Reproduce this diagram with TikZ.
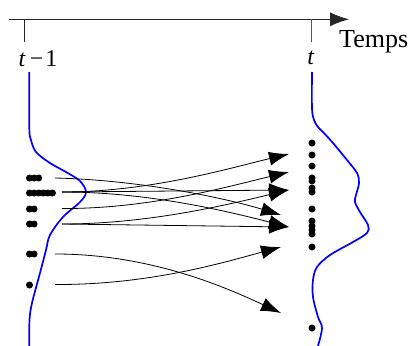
\documentclass[tikz,border=0pt]{standalone}
\usepackage{fontspec}
\setmainfont{Liberation Serif}
\usetikzlibrary{arrows.meta}
\begin{document}
\begin{tikzpicture}[x=1pt,y=-1pt,
  lbl/.style={inner sep=0pt,font=\fontsize{24}{28}\selectfont},
  dens/.style={blue,line width=1.7pt},
  flow/.style={line width=0.8pt,-{Latex[length=20pt,width=14pt]}},
  dot/.style={circle,fill=black,inner sep=0pt,minimum size=7pt}]
\useasboundingbox (0,0) rectangle (408,346);
% time axis
\coordinate (ax0) at (9,19.3);
\coordinate (ax1) at (349,19.3);
\draw[line width=0.8pt,black!85,-{Latex[length=19pt,width=14pt]}] (ax0) -- (ax1);
\coordinate (tk1) at (24.3,19.3);
\coordinate (tk1b) at (24.3,41.7);
\coordinate (tk2) at (311.7,19.3);
\coordinate (tk2b) at (311.7,41.7);
\draw[line width=0.8pt,black!85] (tk1) -- (tk1b);
\draw[line width=0.8pt,black!65] (tk2) -- (tk2b);
\node[lbl,anchor=base west] (lprev) at (18.5,66) {\textit{t}\kern4pt−\kern2pt1};
\node[lbl,anchor=base] (lcur) at (311,64.5) {\textit{t}};
\node[lbl,anchor=base west,font=\fontsize{26}{30}\selectfont] (ltemps) at (339,47.5) {Temps};
% density curves
\draw[dens] plot[smooth,tension=0.55] coordinates {(29.3,72) (29.3,128) (31,140) (36,152) (50,163) (66,172) (80,181) (86,192) (80,202) (63,217) (50,235) (46,250) (40,273) (32,303) (29.5,320) (29.3,346)};
\draw[dens] plot[smooth,tension=0.55] coordinates {(312,72) (312,108) (314,120) (318,127) (323,132) (333,143) (347,160) (357,173) (359,183) (356,195) (355,202) (360,212) (368,225) (367,233) (353,242) (330,255) (317,267) (313,280) (313,297) (318,317) (322,328) (318,346)};
% particles at t-1
\foreach \i in {0,1,2} \node[dot] (pa\i) at (29.5+\i*4.6,178) {};
\foreach \i in {0,...,5} \node[dot] (pb\i) at (29.5+\i*4.6,193) {};
\foreach \i in {0,1} \node[dot] (pc\i) at (29.5+\i*4.6,209) {};
\foreach \i in {0,1} \node[dot] (pd\i) at (29.5+\i*4.6,224) {};
\foreach \i in {0,1} \node[dot] (pe\i) at (29.5+\i*4.6,254) {};
\node[dot] (pf0) at (29.5,285) {};
% particles at t
\foreach \y [count=\k] in {143,155,166,178,181,188,192,209,221,226,230,234,247,328}
  \node[dot] (q\k) at (312,\y) {};
% arrow start and end points
\coordinate (s1) at (55,178);
\coordinate (s2) at (62,192);
\coordinate (s3) at (62,208.5);
\coordinate (s4) at (62,224);
\coordinate (s5) at (55,254);
\coordinate (s6) at (55,284.5);
\coordinate (e1) at (289,154);
\coordinate (e2) at (289,172);
\coordinate (e3) at (289,190);
\coordinate (e4) at (281,215);
\coordinate (e5) at (289,227);
\coordinate (e6) at (281,247);
\coordinate (e7) at (281,313);
% transitions
\draw[flow] (s1) .. controls (140,180) and (225,198) .. (e4);
\draw[flow] (s2) .. controls (150,192) and (230,168) .. (e1);
\draw[flow] (s2) -- (e3);
\draw[flow] (s2) .. controls (150,192) and (230,212) .. (e5);
\draw[flow] (s3) .. controls (150,209) and (230,186) .. (e2);
\draw[flow] (s4) .. controls (150,224) and (230,204) .. (e3);
\draw[flow] (s4) -- (e5);
\draw[flow] (s5) .. controls (150,254) and (225,287) .. (e7);
\draw[flow] (s6) .. controls (150,285) and (225,262) .. (e6);
\end{tikzpicture}
\end{document}
